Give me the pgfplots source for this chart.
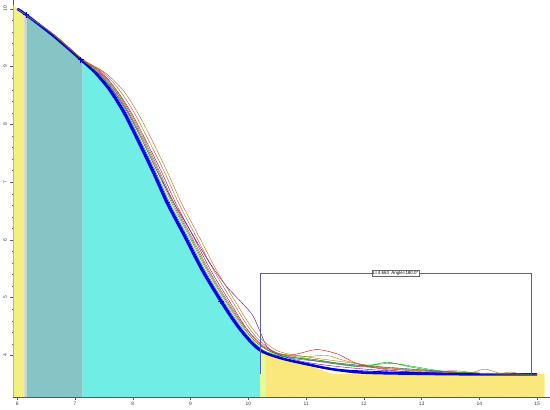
\documentclass[border=0pt]{standalone}
\usepackage{pgfplots}
\pgfplotsset{compat=1.18}
\usepackage{fontspec}
\setmainfont{Liberation Sans}

\definecolor{stripyel}{HTML}{F2F07E}
\definecolor{grayteal}{HTML}{86C5C5}
\definecolor{aqua}{HTML}{70EEE6}
\definecolor{sandyel}{HTML}{FBE87C}
\definecolor{boxblue}{HTML}{5A5AB4}

\begin{document}
\begin{tikzpicture}
\begin{axis}[
    scale only axis,
    width=541pt, height=400pt,
    xmin=5.93, xmax=15.22,
    ymin=3.28, ymax=10.15,
    axis x line=bottom, axis y line=left,
    axis line style={-, gray!70!black},
    xtick={6,...,15}, ytick={4,...,10},
    minor x tick num=9, minor y tick num=4,
    tick align=outside,
    major tick length=3pt, minor tick length=1.5pt,
    tick style={gray!70!black},
    tick label style={font=\fontsize{5}{6}\selectfont, text=gray!50!black},
    y tick label style={rotate=90},
    xticklabel style={yshift=1pt},
    /pgf/number format/assume math mode=true,
    clip=true,
]

% left yellow strip
\addplot[fill=stripyel, draw=none] coordinates {
    (5.93,3.28) (5.93,10.07) (6.00,10.00) (6.12,9.92) (6.12,3.28)} -- cycle;
\addplot[fill=pink!40!gray!50, draw=none] coordinates {
    (6.12,3.28) (6.12,9.92) (6.16,9.89) (6.16,3.28)} -- cycle;
% gray-teal band
\addplot[fill=grayteal, draw=none] coordinates {
    (6.16,3.28) (6.16,9.89) (6.64,9.52) (7.13,9.10) (7.13,3.28)} -- cycle;
% cyan area under the profile
\addplot[fill=aqua, draw=none] coordinates {
    (7.13,3.28) (7.13,9.10) (7.35,8.89) (7.60,8.59) (7.85,8.19) (8.10,7.69)
    (8.35,7.17) (8.60,6.62) (8.90,6.05) (9.20,5.47) (9.52,4.94) (9.80,4.52)
    (10.05,4.22) (10.21,4.08) (10.21,3.28)} -- cycle;
% yellow area on the right
\addplot[fill=sandyel, draw=none] coordinates {
    (10.21,3.28) (10.21,4.10) (10.60,3.96) (11.00,3.84) (11.45,3.68)
    (15.13,3.68) (15.13,3.28)} -- cycle;
\addplot[fill=green!30!yellow!40, draw=none] coordinates {
    (10.21,3.28) (10.21,4.10) (10.30,4.07) (10.30,3.28)} -- cycle;

% bundle of profiles
\addplot[smooth, blue, line width=2.6pt] coordinates {
    (6.00,10.00) (6.15,9.90) (6.64,9.52) (7.10,9.12) (7.35,8.89) (7.60,8.59)
    (7.85,8.19) (8.10,7.69) (8.35,7.17) (8.60,6.62) (8.90,6.05) (9.20,5.47)
    (9.52,4.94) (9.80,4.52) (10.05,4.22) (10.25,4.06) (10.60,3.94) (11.00,3.85)
    (11.45,3.76) (12.00,3.70) (13.00,3.68) (14.00,3.67) (15.00,3.67)};
\addplot[smooth, red!80!black, thin] coordinates {
    (6.00,10.00) (6.64,9.55) (7.10,9.15) (7.45,8.91) (7.72,8.59) (7.98,8.19)
    (8.24,7.69) (8.50,7.17) (8.75,6.62) (9.05,6.05) (9.35,5.47) (9.67,4.94)
    (9.93,4.52) (10.15,4.24) (10.40,4.06) (10.70,4.00) (10.95,4.05) (11.20,4.10)
    (11.55,4.02) (11.90,3.85) (12.40,3.75) (13.00,3.70) (14.00,3.68) (14.90,3.67)};
\addplot[smooth, green!60!black, thin] coordinates {
    (6.00,10.00) (6.64,9.54) (7.10,9.14) (7.42,8.90) (7.69,8.59) (7.94,8.19)
    (8.20,7.69) (8.45,7.17) (8.70,6.62) (9.00,6.05) (9.30,5.47) (9.62,4.94)
    (9.90,4.52) (10.12,4.24) (10.35,4.08) (10.60,3.99) (11.00,3.93) (11.50,3.85)
    (12.00,3.80) (12.40,3.88) (12.80,3.80) (13.30,3.72) (14.00,3.68) (14.90,3.67)};
\addplot[smooth, brown!80!black, thin] coordinates {
    (6.00,10.00) (6.64,9.55) (7.10,9.13) (7.48,8.91) (7.77,8.59) (8.03,8.19)
    (8.29,7.69) (8.55,7.17) (8.80,6.62) (9.10,6.05) (9.40,5.47) (9.72,4.94)
    (9.98,4.52) (10.20,4.25) (10.50,4.04) (11.00,3.95) (11.60,3.86) (12.20,3.80)
    (12.80,3.76) (13.50,3.72) (13.85,3.70) (14.10,3.76) (14.35,3.69) (14.55,3.71)
    (14.70,3.68) (15.00,3.67)};
\addplot[smooth, violet!80!blue, thin] coordinates {
    (6.64,9.53) (7.10,9.12) (7.40,8.89) (7.66,8.59) (7.92,8.19) (8.18,7.69)
    (8.43,7.17) (8.70,6.66) (9.00,6.15) (9.30,5.65) (9.60,5.22) (9.85,4.95)
    (10.07,4.70) (10.20,4.42) (10.33,4.14) (10.55,4.00) (11.00,3.88) (11.60,3.80)
    (12.30,3.74) (13.20,3.70) (14.20,3.68)};
\addplot[smooth, magenta!80!black, thin] coordinates {
    (6.64,9.53) (7.10,9.13) (7.44,8.90) (7.71,8.59) (7.96,8.19) (8.22,7.69)
    (8.47,7.17) (8.72,6.62) (9.02,6.05) (9.32,5.47) (9.64,4.94) (9.92,4.52)
    (10.17,4.24) (10.40,4.08) (10.70,3.98) (11.20,3.90) (11.80,3.82) (12.50,3.76)
    (13.00,3.72) (13.60,3.73) (14.00,3.69) (14.80,3.67)};
\addplot[smooth, teal, thin] coordinates {
    (6.64,9.52) (7.10,9.12) (7.39,8.89) (7.65,8.59) (7.90,8.19) (8.15,7.69)
    (8.40,7.17) (8.65,6.62) (8.95,6.05) (9.25,5.47) (9.57,4.94) (9.85,4.52)
    (10.10,4.22) (10.35,4.04) (10.80,3.94) (11.40,3.88) (12.00,3.82) (12.60,3.78)
    (13.20,3.73) (14.00,3.69) (14.90,3.67)};
\addplot[smooth, orange!80!black, thin] coordinates {
    (6.64,9.54) (7.10,9.14) (7.50,8.91) (7.83,8.59) (8.09,8.19) (8.35,7.69)
    (8.60,7.17) (8.85,6.62) (9.15,6.05) (9.45,5.47) (9.77,4.94) (10.03,4.52)
    (10.25,4.26) (10.55,4.06) (11.10,3.96) (11.70,3.88) (12.30,3.80) (12.90,3.74)
    (13.60,3.70) (14.40,3.68)};
\addplot[smooth, olive, thin] coordinates {
    (6.64,9.53) (7.10,9.13) (7.41,8.89) (7.68,8.59) (7.93,8.19) (8.18,7.69)
    (8.43,7.17) (8.68,6.62) (8.98,6.05) (9.28,5.47) (9.60,4.94) (9.88,4.52)
    (10.13,4.23) (10.40,4.06) (10.75,4.00) (11.05,3.98) (11.35,4.00) (11.70,3.90)
    (12.30,3.78) (13.00,3.73) (13.80,3.70) (14.60,3.68)};
\addplot[smooth, green!70!black, thin] coordinates {
    (10.20,4.10) (10.60,3.98) (11.20,3.92) (11.80,3.82) (12.20,3.84) (12.50,3.86)
    (12.90,3.80) (13.40,3.72) (14.00,3.69)};
\addplot[smooth, blue!70!black, thick] coordinates {
    (6.64,9.52) (7.10,9.12) (7.37,8.89) (7.63,8.59) (7.88,8.19) (8.13,7.69)
    (8.38,7.17) (8.63,6.62) (8.93,6.05) (9.23,5.47) (9.55,4.94) (9.83,4.52)
    (10.08,4.22) (10.35,4.02) (10.90,3.86) (11.50,3.76) (12.50,3.71) (14.00,3.68)};

% markers on the profile
\addplot[only marks, mark=+, mark size=3pt, blue, thick] coordinates {
    (6.15,9.90) (7.10,9.12) (8.60,6.64) (9.52,4.94)};

% measurement box
\addplot[boxblue, thin, no marks] coordinates {
    (10.21,3.68) (10.21,5.42) (14.90,5.42) (14.90,3.68)};
\node[fill=white, draw=gray!80!black, inner sep=1pt, line width=0.4pt,
      font=\fontsize{4.5}{5}\selectfont] at (axis cs:12.55,5.42)
      {L=4.663 \ Angle=180.0°};

\end{axis}
\end{tikzpicture}
\end{document}
